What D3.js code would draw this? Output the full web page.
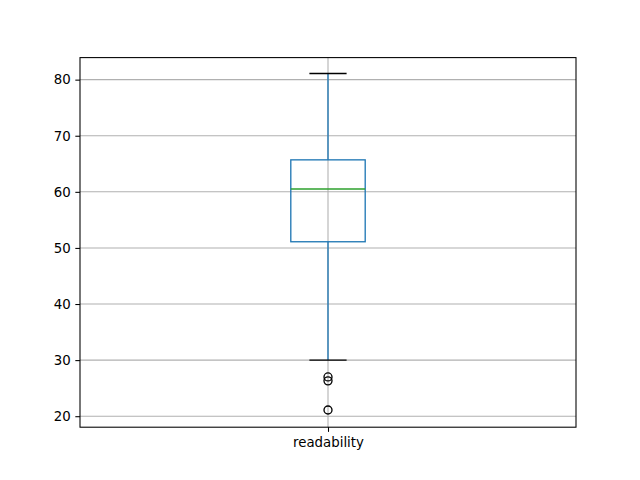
<!DOCTYPE html>
<html>
<head>
<meta charset="utf-8">
<script src="https://cdn.jsdelivr.net/npm/d3@7"></script>
<style>
  body { margin: 0; background: #fff; }
  text { font-family: "DejaVu Sans", sans-serif; }
</style>
</head>
<body>
<div id="chart"></div>
<script>
// box stats
const categories = ['readability'];
const whiskerLow = [30.0];
const q1 = [51.1];
const median = [60.5];
const q3 = [65.7];
const whiskerHigh = [81.1];
const outliers = [[27.0, 26.3, 21.1]];
const yTicks = [20, 30, 40, 50, 60, 70, 80];

const width = 640, height = 480;
const margin = { left: 80, right: 64, top: 57.6, bottom: 52.8 };
const plotW = width - margin.left - margin.right;
const plotH = height - margin.top - margin.bottom;

const svg = d3.select('#chart').append('svg')
  .attr('width', width)
  .attr('height', height);

const g = svg.append('g')
  .attr('transform', `translate(${margin.left},${margin.top})`);

const x = d3.scaleLinear().domain([0.5, categories.length + 0.5]).range([0, plotW]);
const y = d3.scaleLinear().domain([18.04, 83.93]).range([plotH, 0]);

const boxW = x(1.15) - x(1); // matplotlib default width 0.15
const capW = boxW / 2;

// grid
g.append('g').selectAll('line')
  .data(yTicks)
  .enter().append('line')
  .attr('x1', 0).attr('x2', plotW)
  .attr('y1', d => y(d)).attr('y2', d => y(d))
  .attr('stroke', '#b0b0b0').attr('stroke-width', 1.07);

g.append('g').selectAll('line')
  .data(categories)
  .enter().append('line')
  .attr('x1', (d, i) => x(i + 1)).attr('x2', (d, i) => x(i + 1))
  .attr('y1', 0).attr('y2', plotH)
  .attr('stroke', '#b0b0b0').attr('stroke-width', 1.07);

// boxes
categories.forEach((c, i) => {
  const cx = x(i + 1);
  // whiskers
  g.append('line')
    .attr('x1', cx).attr('x2', cx)
    .attr('y1', y(q3[i])).attr('y2', y(whiskerHigh[i]))
    .attr('stroke', '#1f77b4').attr('stroke-width', 1.33);
  g.append('line')
    .attr('x1', cx).attr('x2', cx)
    .attr('y1', y(q1[i])).attr('y2', y(whiskerLow[i]))
    .attr('stroke', '#1f77b4').attr('stroke-width', 1.33);
  // caps
  [whiskerLow[i], whiskerHigh[i]].forEach(v => {
    g.append('line')
      .attr('x1', cx - capW / 2).attr('x2', cx + capW / 2)
      .attr('y1', y(v)).attr('y2', y(v))
      .attr('stroke', '#000').attr('stroke-width', 1.33);
  });
  // box
  g.append('rect')
    .attr('x', cx - boxW / 2).attr('width', boxW)
    .attr('y', y(q3[i])).attr('height', y(q1[i]) - y(q3[i]))
    .attr('fill', 'none')
    .attr('stroke', '#1f77b4').attr('stroke-width', 1.33);
  // median
  g.append('line')
    .attr('x1', cx - boxW / 2).attr('x2', cx + boxW / 2)
    .attr('y1', y(median[i])).attr('y2', y(median[i]))
    .attr('stroke', '#2ca02c').attr('stroke-width', 1.33);
  // fliers
  g.append('g').selectAll('circle')
    .data(outliers[i])
    .enter().append('circle')
    .attr('cx', cx).attr('cy', d => y(d))
    .attr('r', 4)
    .attr('fill', 'none')
    .attr('stroke', '#000').attr('stroke-width', 1.33);
});

// axes
const yAxis = d3.axisLeft(y).tickValues(yTicks).tickSize(4.67).tickPadding(4.67);
const xAxis = d3.axisBottom(x).tickValues(categories.map((c, i) => i + 1))
  .tickFormat((d, i) => categories[i]).tickSize(4.67).tickPadding(6);

const ya = g.append('g').call(yAxis);
const xa = g.append('g').attr('transform', `translate(0,${plotH})`).call(xAxis);

[ya, xa].forEach(a => {
  a.select('.domain').remove();
  a.selectAll('.tick line').attr('stroke', '#000').attr('stroke-width', 1.07);
  a.selectAll('.tick text').attr('fill', '#000').style('font-size', '13.33px');
});

// spines
g.append('rect')
  .attr('x', 0).attr('y', 0)
  .attr('width', plotW).attr('height', plotH)
  .attr('fill', 'none')
  .attr('stroke', '#000').attr('stroke-width', 1.07);
</script>
</body>
</html>
